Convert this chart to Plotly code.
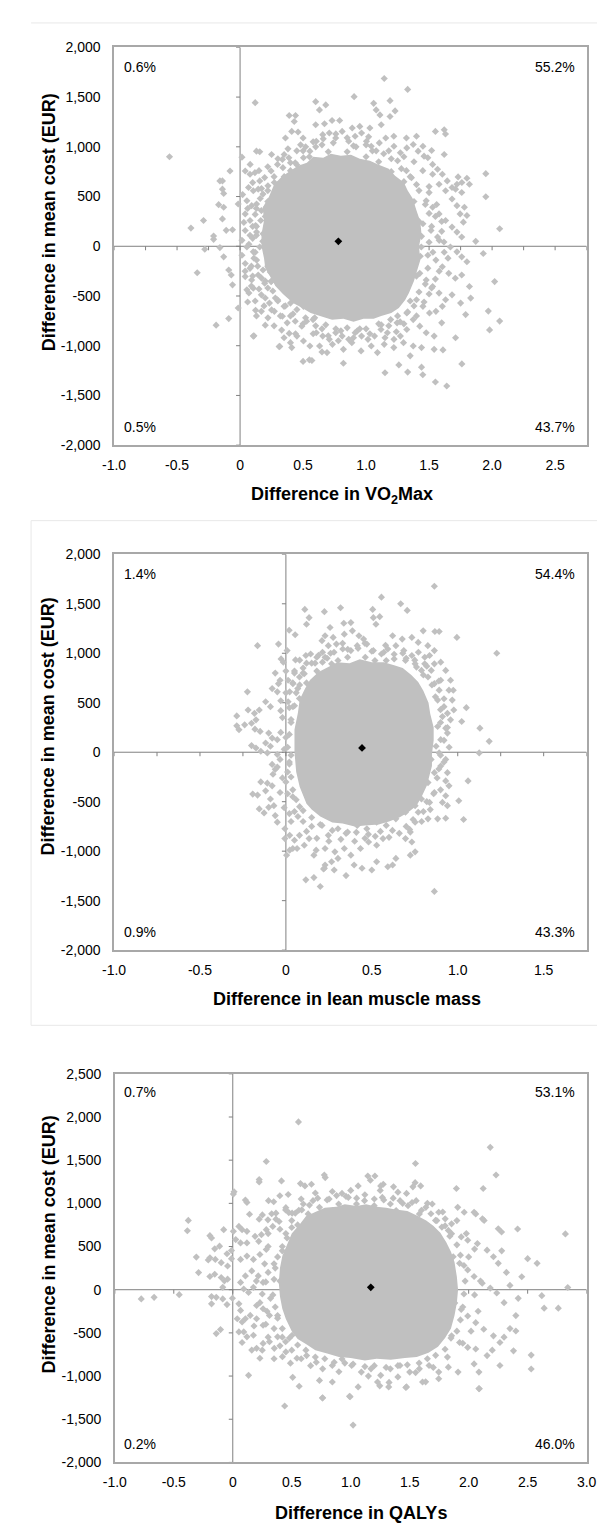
import plotly.graph_objects as go

W, H = 605, 1530
FONT = "Liberation Sans, Arial, sans-serif"
GRAY = "#C0C0C0"

# ---------------- data ----------------
# Panel 1 : Difference in VO2Max  -- outline of the fully covered core, then the individual points
p1_core = [(0.17, 120), (0.19, 260), (0.18, 390), (0.23, 500), (0.27, 620), (0.33, 700), (0.4, 760),
           (0.46, 810), (0.53, 840), (0.58, 900), (0.66, 890), (0.72, 930), (0.8, 910), (0.88, 920),
           (0.95, 880), (1.03, 860), (1.1, 820), (1.18, 780), (1.23, 710), (1.3, 640), (1.33, 560),
           (1.37, 480), (1.4, 360), (1.43, 250), (1.44, 120), (1.42, 0), (1.43, -140), (1.4, -260),
           (1.38, -350), (1.34, -470), (1.31, -540), (1.26, -620), (1.2, -670), (1.12, -700), (1.06, -730),
           (0.98, -730), (0.9, -760), (0.82, -730), (0.73, -740), (0.66, -710), (0.56, -670), (0.48, -610),
           (0.42, -570), (0.34, -480), (0.28, -400), (0.25, -330), (0.2, -220), (0.19, -120), (0.17, 0)]
p1_points = [
    (0.12, 1444), (-0.56, 900), (-0.08, 757), (-0.16, 657), (-0.14, 657), (-0.14, 574), (-0.13, 531),
    (-0.17, 418), (-0.13, 392), (-0.015, 425), (-0.29, 259), (-0.39, 183), (-0.14, 275), (-0.21, 103),
    (-0.21, 70), (-0.28, -30), (-0.34, -266), (-0.11, 160), (-0.06, 166), (-0.16, -13), (-0.13, -106),
    (-0.09, -239), (-0.07, -289), (-0.06, -388), (-0.19, -793), (-0.09, -727), (-0.015, -621), (0.105, -903),
    (0.123, -644), (0.2, -793), (0.31, -1009), (0.41, -1019), (0.5, -1158), (0.55, -1142), (0.33, -843),
    (0.39, -876), (0.015, 896), (0.08, 823), (0.13, 956), (0.156, 950), (0.39, 1315), (0.44, 1315),
    (0.43, 1255), (0.36, 1089), (0.41, 1155), (0.46, 1149), (0.25, 923), (0.35, 923), (0.5, 1089),
    (0.6, 1222), (0.6, 1454), (1.144, 1687), (1.33, 1577), (0.905, 1504), (0.68, 1421), (0.63, 1371),
    (1.19, 1464), (1.23, 1361), (1.06, 1437), (1.08, 1371), (1.11, 1321), (1.19, 1305), (0.67, 1232),
    (0.73, 1265), (0.79, 1265), (0.89, 1189), (0.95, 1205), (1.03, 1189), (1.12, 1222), (1.55, 1155),
    (1.62, 1172), (1.63, 1129), (1.32, 1089), (1.40, 1106), (1.22, 1106), (1.62, 923), (1.52, 963),
    (1.46, 906), (1.95, 730), (1.95, 498), (1.80, 684), (1.82, 624), (1.73, 697), (1.76, 641), (1.71, 574),
    (1.78, 392), (1.80, 309), (1.87, 50), (1.93, -73), (2.02, -355), (2.06, 176), (1.97, -652), (2.06, -752),
    (1.98, -841), (1.76, -1183), (1.64, -1405), (1.55, -1365), (1.45, -1292), (1.44, -1216), (1.33, -1265),
    (1.26, -1193), (1.15, -1272), (0.82, -1176), (0.57, -1149), (0.315, -1007), (0.11, -901), (1.71, -920),
    (1.54, -1036), (0.65, -1062), (0.69, -1069), (0.82, -1036), (0.96, -1052), (1.09, -1069), (1.22, -1019),
    (1.35, -1102), (1.44, -1019), (1.61, -1042), (1.54, -903), (1.60, -770), (1.80, -156), (1.82, -405),
    (1.83, -521), (1.75, -571), (1.79, -687),
    (0.041, 757), (0.079, 724), (0.118, 740), (0.156, 657), (0.195, 691), (0.246, 757), (0.297, 823),
    (0.336, 873), (0.387, 890), (0.438, 840), (0.503, 890), (0.554, 956), (0.067, 591), (0.105, 558),
    (0.144, 574), (0.182, 525), (0.221, 608), (0.272, 641), (0.054, 458), (0.092, 408), (0.131, 425),
    (0.169, 359), (0.208, 392), (0.041, 325), (0.079, 259), (0.123, 209), (0.164, 259), (0.041, 159),
    (0.079, 110), (0.131, 143), (0.182, 126), (0.015, 60), (0.054, -7), (0.105, -56), (0.156, -7),
    (0.015, -90), (0.041, -173), (0.079, -222), (0.131, -139), (0.182, -239), (0.041, -305), (0.092, -339),
    (0.144, -289), (0.195, -372), (0.246, -355), (0.285, -322), (0.054, -438), (0.105, -422), (0.169, -488),
    (0.233, -571), (0.297, -538), (0.349, -604), (0.4, -571), (0.451, -637), (0.503, -604), (0.567, -571),
    (0.169, -654), (0.221, -720), (0.272, -654), (0.336, -704), (0.374, -770), (0.438, -754), (0.49, -803),
    (0.528, -754), (0.592, -720), (0.349, -920), (0.4, -969), (0.451, -903), (0.503, -953), (0.554, -1003),
    (0.22, 450), (0.26, 300), (0.24, 150), (0.21, 20), (0.25, -120), (0.22, -200), (0.26, -450), (0.2, -520),
    (0.29, 480), (0.3, 620), (0.35, 700), (0.4, 760), (0.45, 820), (0.24, -260), (0.18, 50), (0.2, 300),
    (0.12, 320), (0.1, -300), (0.07, -470), (0.12, -550),
    (0.605, 1056), (0.656, 1122), (0.708, 1139), (0.759, 1089), (0.81, 1155), (0.862, 1056), (0.913, 1106),
    (0.964, 1139), (1.003, 1056), (1.041, 1006), (1.105, 1039), (1.156, 1089), (1.221, 1006), (1.272, 940),
    (1.323, 989), (1.374, 1023), (1.413, 956), (1.451, 1006), (1.49, 890), (1.528, 823), (1.567, 774),
    (1.605, 724), (1.644, 657), (1.682, 591), (1.721, 624), (1.759, 541), (1.528, 724), (1.579, 624),
    (1.631, 558), (1.682, 475), (1.721, 408), (1.746, 325), (1.772, 242), (1.477, 458), (1.528, 392),
    (1.579, 325), (1.631, 259), (1.682, 193), (1.721, 143), (1.759, 93), (1.451, 226), (1.515, 159),
    (1.567, 93), (1.618, 43), (1.669, -7), (1.721, -56), (1.759, -106), (1.438, -7), (1.49, -90),
    (1.554, -139), (1.605, -206), (1.656, -272), (1.708, -322), (1.759, -289), (1.426, -272), (1.477, -339),
    (1.528, -405), (1.579, -471), (1.631, -538), (1.682, -488), (1.4, -538), (1.451, -604), (1.503, -671),
    (1.554, -654), (1.605, -604), (1.374, -737), (1.426, -803), (1.477, -870), (1.323, -837), (1.272, -903),
    (1.221, -936), (1.169, -870), (1.118, -837), (1.067, -903), (1.015, -936), (0.964, -903), (0.913, -870),
    (0.862, -936), (0.81, -903), (0.759, -870), (0.708, -936), (0.656, -903), (0.605, -870), (0.631, -1003),
    (0.733, -986), (0.887, -969), (1.041, -1003), (1.144, -986), (1.297, -969), (1.374, -1003), (0.579, -737),
    (1.195, -737), (1.246, -770), (1.323, -671),
    (0.55, 900), (0.7, 950), (0.85, 950), (1.0, 900), (1.1, 850), (1.2, 750), (1.3, 650), (1.38, 450),
    (1.42, 250), (1.44, 100), (1.43, -100), (1.4, -300), (1.35, -550), (1.25, -700), (1.1, -780),
    (0.95, -830), (0.8, -850), (0.65, -830), (0.5, -780), (0.4, -700), (0.3, -550), (0.25, -350),
    (0.5, 960), (0.65, 1020), (0.9, 1010), (1.05, 960), (1.2, 880), (1.28, 780), (1.35, 700), (1.4, 620),
    (1.5, 540), (1.55, 300), (1.6, 150), (1.65, -120), (1.55, -330), (1.5, -480),
    (0.45, 960), (0.52, 1000), (0.58, 1050), (0.66, 1080), (0.74, 1040), (0.85, 1090), (0.92, 1000),
    (1.0, 1020), (1.08, 960), (1.14, 930), (1.25, 860), (1.32, 760), (1.36, 690), (1.42, 560), (1.47, 420),
    (1.5, 330), (1.52, 200), (1.5, 40), (1.53, -60), (1.49, -220), (1.47, -380), (1.42, -460), (1.38, -600),
    (1.33, -660), (1.27, -760), (1.18, -800), (1.12, -790), (1.0, -830), (0.93, -850), (0.85, -820),
    (0.76, -830), (0.68, -790), (0.6, -800), (0.52, -720), (0.42, -680), (0.36, -600), (0.28, -520),
    (0.22, -420), (0.17, -320), (0.14, -200), (0.12, -60), (0.1, 80), (0.13, 200), (0.13, 380), (0.16, 480),
    (0.22, 560), (0.27, 700), (0.34, 790), (0.4, 840),
    (0.02, 520), (0.06, 380), (0.1, 200), (0.03, 240), (0.07, 20), (0.11, -120), (0.04, -250), (0.09, -400),
    (0.15, -430), (0.06, -560), (0.13, -700), (0.19, -600), (0.25, -640), (0.32, -700), (0.27, -800),
    (0.44, -880), (0.58, -880), (0.7, -900), (0.78, -950), (0.9, -920), (1.03, -880), (1.15, -920),
    (1.24, -860), (1.3, -780), (1.4, -700), (1.46, -560), (1.52, -420), (1.58, -250), (1.62, -60),
    (1.58, 60), (1.6, 250), (1.56, 420), (1.5, 600), (1.45, 760), (1.38, 850), (1.3, 900), (1.18, 960),
    (1.02, 1100), (0.76, 1130), (0.6, 1000), (0.48, 1020), (0.38, 980), (0.3, 880), (0.22, 800),
    (0.15, 760), (0.1, 640), (0.17, 580), (0.13, 110), (0.09, -200), (0.2, -350),
]
p1_mean = (0.78, 50)

# Panel 2 : Difference in lean muscle mass
p2_core = [(0.05, 0), (0.05, 230), (0.07, 400), (0.08, 530), (0.11, 640), (0.14, 730), (0.19, 810),
           (0.25, 860), (0.3, 910), (0.37, 900), (0.43, 940), (0.5, 910), (0.57, 910), (0.63, 880),
           (0.68, 850), (0.73, 780), (0.77, 710), (0.8, 620), (0.83, 500), (0.84, 390), (0.86, 250),
           (0.86, 120), (0.85, -20), (0.85, -140), (0.83, -260), (0.82, -340), (0.79, -450), (0.76, -540),
           (0.71, -610), (0.66, -660), (0.6, -700), (0.54, -730), (0.46, -740), (0.4, -750), (0.33, -720),
           (0.27, -710), (0.2, -650), (0.15, -580), (0.12, -520), (0.08, -350), (0.06, -200)]
p2_points = [
    (0.11, 1443), (0.135, 1360), (0.12, 1293), (0.019, 1233), (0.054, 1187), (-0.165, 1077), (-0.043, 1093),
    (-0.028, 943), (-0.015, 910), (0.056, 933), (-0.062, 800), (-0.034, 727), (-0.043, 693), (-0.08, 643),
    (-0.05, 610), (-0.224, 610), (-0.118, 510), (-0.09, 460), (-0.22, 427), (-0.155, 427), (-0.183, 393),
    (-0.286, 367), (-0.24, 277), (-0.286, 267), (-0.273, 227), (-0.2, 293), (-0.174, 327), (-0.18, 233),
    (-0.15, 210), (-0.1, 193), (-0.08, 143), (-0.05, 127), (-0.118, 93), (-0.09, 60), (-0.2, 67),
    (-0.174, 43), (-0.146, 10), (-0.108, -7), (-0.05, -23), (-0.034, -73), (-0.08, -123), (-0.062, -173),
    (-0.075, -223), (-0.146, -300), (-0.108, -313), (-0.08, -340), (-0.193, -423), (-0.165, -433),
    (-0.118, -390), (-0.09, -473), (-0.034, -407), (-0.155, -573), (-0.127, -613), (-0.1, -557),
    (-0.062, -640), (-0.07, -540), (-0.05, -707), (-0.006, -773), (-0.006, -873), (0.022, -840), (0.05, -890),
    (0.079, -840), (0.04, -973), (0.022, -990), (0.004, -1040), (0.065, -973), (0.107, -940), (0.135, -873),
    (0.176, -990), (0.163, -1040), (0.228, -973), (0.116, -1290), (0.163, -1267), (0.2, -1357),
    (0.224, -1173), (0.007, 1027), (0.05, 800), (0.079, 760), (0.107, 793), (0.013, 727), (0.041, 693),
    (0.022, 610), (0.069, 643), (0.116, 977), (0.144, 993), (0.18, 960), (0.213, 1010), (0.228, 1177),
    (0.213, 910), (0.013, 510), (0.041, 460), (0.079, 543),
    (0.864, 1677), (0.556, 1567), (0.668, 1500), (0.706, 1433), (0.224, 1420), (0.318, 1460), (0.505, 1443),
    (0.546, 1370), (0.509, 1360), (0.524, 1293), (0.257, 1260), (0.337, 1303), (0.378, 1310), (0.867, 1220),
    (0.892, 1220), (0.799, 1227), (1.227, 1000), (0.275, 1160), (0.34, 1193), (0.387, 1227), (0.425, 1177),
    (0.452, 1143), (0.621, 1177), (0.677, 1143), (0.733, 1160), (0.77, 1110), (0.826, 1077), (0.864, 1027),
    (0.836, 977), (0.808, 960), (0.901, 910), (0.864, 893), (0.93, 827), (0.958, 727), (0.901, 727),
    (0.949, 627), (0.968, 527), (0.977, 427), (0.94, 393), (0.958, 327), (0.93, 243), (0.94, 193),
    (0.901, 127), (0.892, -7), (0.93, -73), (0.901, -140), (0.94, -207), (0.93, -290), (0.949, -340),
    (0.93, -440), (0.911, -507), (0.94, -540), (0.864, -407), (0.836, -507), (0.827, -673), (0.883, -673),
    (0.93, -667), (0.77, -607), (0.752, -707), (0.724, -807), (0.696, -873), (0.733, -907), (0.752, -1007),
    (0.724, -1040), (0.621, -1140), (0.593, -1157), (0.64, -1073), (0.565, -873), (0.528, -940),
    (0.481, -907), (0.434, -973), (0.378, -1040), (0.34, -973), (0.303, -1073), (0.266, -1107),
    (0.228, -1140), (0.285, -1007), (0.397, -1140), (0.443, -1173), (0.5, -1190), (0.528, -1107),
    (0.35, -1247), (0.281, -1190), (0.219, -1180), (0.864, -1407), (1.129, 243), (1.183, 110),
    (0.995, 1160), (1.125, -7), (1.05, 450), (1.023, 310), (0.974, 626), (1.034, -680), (1.06, -290),
    (1.006, -490),
    (0.21, 1127), (0.247, 1077), (0.294, 1093), (0.331, 1043), (0.378, 1027), (0.415, 1077), (0.471, 1093),
    (0.509, 1027), (0.556, 993), (0.593, 1043), (0.64, 1077), (0.686, 1027), (0.733, 977), (0.771, 1010),
    (0.808, 893), (0.846, 827), (0.228, 960), (0.266, 893), (0.303, 927), (0.359, 960), (0.462, 960),
    (0.518, 927), (0.584, 927), (0.63, 943), (0.696, 927), (0.752, 893), (0.789, 827), (0.827, 760),
    (0.864, 693), (0.892, 627), (0.883, 527), (0.92, 460), (0.911, 360), (0.883, 260), (0.874, 60),
    (0.845, -73), (0.864, -207), (0.827, -307), (0.789, -473), (0.752, -540), (0.696, -607), (0.64, -673),
    (0.584, -740), (0.528, -707), (0.471, -773), (0.415, -740), (0.359, -807), (0.303, -773), (0.247, -840),
    (0.21, -740),
    (0.03, 300), (0.0, 150), (0.02, -100), (0.0, -300), (0.04, -450), (0.08, -550), (0.02, 450),
    (-0.02, 350), (-0.03, 200), (0.01, -200), (0.05, -600), (0.1, -700), (0.15, -750), (0.12, 700),
    (0.18, 820), (0.05, 820), (-0.05, -150), (0.03, -700), (0.15, 900), (0.1, 850),
    (0.1, 800), (0.17, 900), (0.24, 950), (0.28, 1010), (0.36, 1040), (0.42, 1050), (0.5, 1020), (0.57, 1010),
    (0.63, 990), (0.7, 950), (0.76, 860), (0.8, 780), (0.85, 680), (0.87, 560), (0.9, 430), (0.9, 300),
    (0.92, 120), (0.9, -30), (0.89, -170), (0.88, -260), (0.86, -420), (0.82, -500), (0.8, -600),
    (0.74, -680), (0.7, -750), (0.62, -790), (0.55, -800), (0.48, -830), (0.41, -810), (0.35, -820),
    (0.27, -790), (0.2, -730), (0.15, -660), (0.1, -590), (0.06, -480), (0.04, -380), (0.03, -250),
    (0.02, -120), (0.01, 50), (0.02, 180), (0.03, 330), (0.05, 470), (0.06, 600), (0.08, 680),
    (-0.03, 520), (0.0, 600), (-0.01, 30), (0.03, -30), (-0.02, -260), (0.01, -420), (-0.01, -560),
    (0.02, -620), (0.07, -650), (0.12, -800), (0.18, -870), (0.25, -900), (0.32, -880), (0.4, -900),
    (0.46, -870), (0.52, -850), (0.6, -860), (0.66, -820), (0.72, -780), (0.79, -700), (0.84, -580),
    (0.9, -380), (0.92, -100), (0.95, 50), (0.94, 250), (0.92, 540), (0.89, 720), (0.82, 870), (0.75, 930),
    (0.68, 1000), (0.58, 1080), (0.46, 1100), (0.33, 1100), (0.26, 1000), (0.19, 980), (0.12, 900),
    (0.08, 930), (0.04, 700), (0.0, 820), (-0.03, 420),
]
p2_mean = (0.443, 43)

# Panel 3 : Difference in QALYs
p3_core = [(0.39, 80), (0.4, 250), (0.42, 390), (0.46, 520), (0.5, 650), (0.57, 760), (0.62, 850),
           (0.7, 900), (0.78, 950), (0.88, 960), (0.95, 990), (1.05, 970), (1.13, 990), (1.22, 960),
           (1.3, 950), (1.38, 930), (1.48, 910), (1.56, 860), (1.64, 800), (1.7, 740), (1.76, 660),
           (1.81, 550), (1.85, 440), (1.88, 320), (1.9, 150), (1.91, 0), (1.9, -150), (1.88, -300),
           (1.85, -450), (1.8, -560), (1.74, -660), (1.66, -730), (1.56, -780), (1.46, -790), (1.34, -810),
           (1.22, -800), (1.12, -820), (1.0, -790), (0.9, -780), (0.8, -740), (0.7, -700), (0.62, -630),
           (0.55, -570), (0.5, -480), (0.45, -340), (0.42, -220), (0.4, -80)]
p3_points = [
    (0.557, 1943), (0.284, 1485), (0.224, 1275), (0.224, 1248), (0.413, 1260), (0.574, 1229), (0.011, 1134),
    (0.005, 1107), (0.107, 1038), (0.12, 1011), (0.303, 1031), (0.347, 1019), (0.399, 1088), (0.47, 1103),
    (0.142, 874), (0.251, 866), (0.224, 817), (0.298, 809), (0.366, 817), (0.393, 790), (0.475, 893),
    (0.53, 886), (-0.377, 802), (-0.385, 683), (-0.077, 695), (-0.194, 626), (-0.18, 599), (0.005, 676),
    (0.052, 733), (0.079, 695), (0.12, 676), (0.025, 580), (0.066, 542), (-0.153, 473), (-0.112, 504),
    (-0.049, 416), (-0.309, 378), (-0.194, 370), (-0.208, 344), (-0.148, 351), (-0.011, 454), (-0.011, 359),
    (-0.098, 313), (-0.044, 275), (-0.29, 198), (-0.194, 153), (-0.153, 179), (-0.098, 141), (-0.071, 103),
    (-0.044, 122), (-0.085, 27), (-0.776, -107), (-0.667, -88), (-0.454, -57), (-0.18, -80), (-0.14, -88),
    (-0.18, -164), (-0.085, -107), (-0.049, -172), (-0.003, -99), (-0.14, -508), (-0.104, -462),
    (0.052, -164), (0.066, -240), (0.038, -336), (0.079, -374), (0.107, -336), (0.148, -298), (0.093, -489),
    (0.12, -546), (0.052, -489), (0.079, -611), (0.175, -527), (0.161, -699), (0.202, -679), (0.23, -794),
    (0.257, -622), (0.134, -992), (0.508, -1015), (0.563, -1118), (0.44, -1347), (0.489, -851),
    (0.544, -794), (0.421, -775), (0.352, -679), (0.311, -603), (0.38, -546), (0.448, -603), (0.503, -527),
    (0.202, -183), (0.257, -221), (0.311, -298), (0.202, -336), (0.257, -412), (0.093, 8), (0.134, -31),
    (0.175, 27), (0.066, 84), (0.107, 160), (0.161, 218), (0.216, 160), (0.257, 84), (0.066, 351),
    (0.12, 389), (0.175, 351), (0.23, 408), (0.284, 466), (0.12, 542), (0.189, 618), (0.243, 637),
    (0.284, 695), (0.339, 733), (0.366, 886), (0.448, 924), (0.503, 886), (0.585, 924),
    (2.183, 1649), (2.232, 1328), (1.549, 1462), (0.776, 1328), (0.784, 1298), (1.145, 1317), (1.205, 1317),
    (1.167, 1267), (1.276, 1221), (1.254, 1202), (1.546, 1240), (1.527, 1191), (1.593, 1202), (1.896, 1172),
    (2.123, 1172), (2.046, 897), (2.06, 878), (2.131, 801), (2.117, 821), (2.251, 706), (2.279, 668),
    (0.612, 1202), (0.667, 1221), (0.844, 1137), (0.926, 1115), (1.063, 1202), (1.363, 1191), (1.473, 1115),
    (1.907, 954), (1.962, 897), (1.855, 649), (1.937, 611), (1.992, 573), (2.074, 534), (2.156, 458),
    (2.21, 382), (2.251, 305), (1.869, 382), (1.923, 305), (1.992, 229), (2.046, 153), (2.115, 76),
    (2.183, 19), (2.238, -38), (1.882, -153), (1.937, -229), (1.992, -305), (2.06, -382), (2.128, -458),
    (2.21, -534), (2.265, -611), (1.855, -534), (1.923, -611), (1.992, -668), (2.06, -687), (2.156, -763),
    (2.087, -954), (2.046, -859), (2.2, -700), (2.087, -1145), (2.265, -878),
    (2.84, 26), (2.76, -214), (2.64, -214), (2.62, -69), (2.53, -757), (2.53, -918), (2.40, -478),
    (2.38, -708), (2.82, 646), (2.415, 703), (2.58, 305), (2.50, 359), (0.99, -1235), (0.76, -1254),
    (1.02, -1568), (2.09, -1147), (1.635, -1067), (1.467, -1132), (1.325, -1074), (1.246, -1113),
    (2.3, -150), (2.35, 50), (2.32, 200), (2.4, -300), (2.35, -450), (2.45, 150), (2.28, 450), (2.3, -550),
    (2.42, -100),
    (0.626, -763), (0.708, -840), (0.762, -916), (0.844, -878), (0.926, -802), (1.008, -878), (1.09, -954),
    (1.172, -916), (1.254, -992), (1.336, -916), (1.418, -878), (1.5, -954), (1.582, -916), (1.664, -878),
    (1.746, -954), (1.828, -897), (0.735, -1050), (0.844, -1069), (1.063, -1126), (1.227, -1069),
    (1.322, -1126), (1.473, -1126), (1.609, -1069), (1.746, -1031), (1.91, -954), (0.762, -1252),
    (0.995, -1240),
    (0.598, 992), (0.68, 1031), (0.735, 954), (0.817, 1050), (0.898, 992), (0.98, 1069), (1.049, 992),
    (1.117, 1031), (1.199, 973), (1.268, 1069), (1.336, 992), (1.418, 1031), (1.486, 973), (1.555, 1031),
    (1.637, 954), (1.691, 992), (1.746, 897), (1.801, 821), (1.855, 763), (0.639, 878), (0.844, 916),
    (1.117, 897), (1.385, 916), (1.582, 878), (1.719, 802), (1.773, 725), (1.828, 687),
    (0.3, 500), (0.35, 300), (0.4, 100), (0.32, -100), (0.38, -300), (0.35, -450), (0.42, -550), (0.3, 200),
    (0.25, -50), (0.45, 650), (0.4, -650), (0.5, -700), (0.55, 750), (0.42, 450), (0.28, -400),
    (0.5, 800), (0.56, 920), (0.65, 980), (0.72, 1060), (0.8, 1040), (0.88, 1090), (0.96, 1080), (1.05, 1060),
    (1.12, 1100), (1.2, 1050), (1.28, 1040), (1.36, 1060), (1.44, 1000), (1.52, 1010), (1.6, 920),
    (1.68, 880), (1.73, 800), (1.8, 740), (1.84, 620), (1.9, 520), (1.93, 400), (1.96, 280), (1.97, 100),
    (1.96, -50), (1.95, -200), (1.93, -350), (1.9, -480), (1.85, -560), (1.8, -690), (1.72, -760),
    (1.65, -800), (1.58, -850), (1.48, -870), (1.4, -880), (1.3, -900), (1.2, -880), (1.12, -890),
    (1.02, -860), (0.95, -850), (0.86, -840), (0.78, -800), (0.7, -780), (0.62, -700), (0.55, -640),
    (0.48, -560), (0.42, -450), (0.38, -330), (0.36, -200), (0.34, -60), (0.35, 120), (0.36, 250),
    (0.38, 380), (0.42, 500), (0.46, 600),
    (0.3, 650), (0.22, 560), (0.27, 300), (0.2, 100), (0.28, 90), (0.23, -150), (0.29, -250), (0.18, -420),
    (0.3, -550), (0.25, -700), (0.35, -800), (0.45, -720), (0.58, -800), (0.66, -880), (0.9, -950),
    (1.15, -1000), (1.4, -1010), (1.55, -960), (1.7, -900), (1.82, -780), (1.95, -620), (2.02, -480),
    (2.08, -250), (2.05, -60), (2.1, 100), (2.0, 380), (2.05, 470), (1.98, 650), (1.9, 800), (1.78, 900),
    (1.65, 1000), (1.4, 1130), (1.25, 1150), (1.0, 1150), (0.7, 1120), (0.58, 1050), (0.45, 950),
    (0.4, 700), (0.5, 720), (0.33, 880),
]
p3_mean = (1.17, 27)

quad_labels = [("0.6%", "55.2%", "0.5%", "43.7%"),
               ("1.4%", "54.4%", "0.9%", "43.3%"),
               ("0.7%", "53.1%", "0.2%", "46.0%")]
x_titles = ["Difference in VO<sub>2</sub>Max", "Difference in lean muscle mass", "Difference in QALYs"]
y_title = "Difference in mean cost (EUR)"

x_ranges = [(-1, 2.75), (-1, 1.75), (-1, 3)]
y_ranges = [(-2000, 2000), (-2000, 2000), (-2000, 2500)]
x_tickvals = [[-1, -0.5, 0, 0.5, 1, 1.5, 2, 2.5],
              [-1, -0.5, 0, 0.5, 1, 1.5],
              [-1, -0.5, 0, 0.5, 1, 1.5, 2, 2.5, 3]]
x_ticktext = [["-1.0", "-0.5", "0", "0.5", "1.0", "1.5", "2.0", "2.5"],
              ["-1.0", "-0.5", "0", "0.5", "1.0", "1.5"],
              ["-1.0", "-0.5", "0", "0.5", "1.0", "1.5", "2.0", "2.5", "3.0"]]
y_tickvals = [[-2000, -1500, -1000, -500, 0, 500, 1000, 1500, 2000],
              [-2000, -1500, -1000, -500, 0, 500, 1000, 1500, 2000],
              [-2000, -1500, -1000, -500, 0, 500, 1000, 1500, 2000, 2500]]
y_ticktext = [["-2,000", "-1,500", "-1,000", "-500", "0", "500", "1,000", "1,500", "2,000"],
              ["-2,000", "-1,500", "-1,000", "-500", "0", "500", "1,000", "1,500", "2,000"],
              ["-2,000", "-1,500", "-1,000", "-500", "0", "500", "1,000", "1,500", "2,000", "2,500"]]
zero_x_ticks = [[-1, -0.75, -0.5, -0.25, 0, 0.25, 0.5, 0.75, 1, 1.25, 1.5, 1.75, 2, 2.25, 2.5, 2.75],
                [-1, -0.75, -0.5, -0.25, 0, 0.25, 0.5, 0.75, 1, 1.25, 1.5, 1.75],
                [-1, -0.5, 0, 0.5, 1, 1.5, 2, 2.5, 3]]

cores = [p1_core, p2_core, p3_core]
clouds = [p1_points, p2_points, p3_points]
means = [p1_mean, p2_mean, p3_mean]

# ---------------- layout geometry (pixels) ----------------
plot_box = [(97.6, 31.7, 588, 433.7), (97.6, 544, 588, 944), (98.4, 1069, 588, 1461.7)]
xlabel_y = [485, 993.3, 1513.3]
xlabel_x = [334, 339, 354]
ytitle_y = [208.5, 718, 1241.5]
quad_y = [(51.7, 415), (564, 925.7), (1087.5, 1443.3)]
AXC = "#808080"


def px(x):
    return x / W


def py(y):
    return 1 - y / H


fig = go.Figure()
layout = dict(width=W, height=H, margin=dict(l=0, r=0, t=0, b=0),
              paper_bgcolor="white", plot_bgcolor="rgba(0,0,0,0)",
              showlegend=False, font=dict(family=FONT, size=14, color="#000"))
annotations = []
shapes = []

for i in range(3):
    n = i + 1
    xa, ya = ("x" if n == 1 else f"x{n}"), ("y" if n == 1 else f"y{n}")
    l, t, r, b = plot_box[i]
    x0, x1 = x_ranges[i]
    y0, y1 = y_ranges[i]

    core = cores[i] + [cores[i][0]]
    fig.add_trace(go.Scatter(x=[c[0] for c in core], y=[c[1] for c in core], xaxis=xa, yaxis=ya,
                             mode="lines", fill="toself", fillcolor=GRAY, line=dict(width=0, color=GRAY),
                             hoverinfo="skip"))
    fig.add_trace(go.Scatter(x=[p[0] for p in clouds[i]], y=[p[1] for p in clouds[i]], xaxis=xa, yaxis=ya,
                             mode="markers", marker=dict(symbol="diamond", size=5.5, color=GRAY,
                                                         line=dict(width=0)), hoverinfo="skip"))
    fig.add_trace(go.Scatter(x=[means[i][0]], y=[means[i][1]], xaxis=xa, yaxis=ya, mode="markers",
                             marker=dict(symbol="diamond", size=6, color="black", line=dict(width=0)),
                             hoverinfo="skip"))

    xdom = [px(l), px(r)]
    ydom = [py(b), py(t)]
    ak = "xaxis" if n == 1 else f"xaxis{n}"
    ay = "yaxis" if n == 1 else f"yaxis{n}"
    layout[ak] = dict(domain=xdom, anchor=ya, range=[x0, x1], tickvals=x_tickvals[i],
                      ticktext=x_ticktext[i], ticks="", showgrid=False, zeroline=False,
                      showline=True, mirror=True, linecolor="#a8a8a8", linewidth=1.5,
                      tickfont=dict(size=14, family=FONT, color="#000"), ticklabelstandoff=6,
                      fixedrange=True)
    layout[ay] = dict(domain=ydom, anchor=xa, range=[y0, y1], tickvals=y_tickvals[i],
                      ticktext=y_ticktext[i], ticks="", showgrid=False, zeroline=False,
                      showline=True, mirror=True, linecolor="#a8a8a8", linewidth=1.5,
                      tickfont=dict(size=14, family=FONT, color="#000"), ticklabelstandoff=9,
                      fixedrange=True)

    # axes crossing at zero, drawn below the points, with small tick marks
    shapes.append(dict(type="line", xref=xa, yref=ya, x0=x0, x1=x1, y0=0, y1=0, layer="below",
                       line=dict(color=AXC, width=1)))
    shapes.append(dict(type="line", xref=xa, yref=ya, x0=0, x1=0, y0=y0, y1=y1, layer="below",
                       line=dict(color=AXC, width=1)))
    for tv in zero_x_ticks[i]:
        shapes.append(dict(type="line", xref=xa, yref=ya, x0=tv, x1=tv, ysizemode="pixel", yanchor=0,
                           y0=0, y1=-4, layer="below", line=dict(color=AXC, width=1)))
    for tv in y_tickvals[i]:
        shapes.append(dict(type="line", xref=xa, yref=ya, y0=tv, y1=tv, xsizemode="pixel", xanchor=0,
                           x0=-4, x1=0, layer="below", line=dict(color=AXC, width=1)))

    ql, qr, bl, br = quad_labels[i]
    ty, by = quad_y[i]
    for txt, xx, anc, yy in [(ql, 106, "left", ty), (qr, 577.5, "right", ty),
                             (bl, 106, "left", by), (br, 577.5, "right", by)]:
        annotations.append(dict(text=txt, x=px(xx), y=py(yy), xref="paper", yref="paper",
                                xanchor=anc, yanchor="middle", showarrow=False,
                                font=dict(size=14, family=FONT, color="#000")))
    annotations.append(dict(text=f"<b>{x_titles[i]}</b>", x=px(xlabel_x[i]), y=py(xlabel_y[i]),
                            xref="paper", yref="paper", xanchor="center", yanchor="middle",
                            showarrow=False, font=dict(size=18, family=FONT, color="#000")))
    annotations.append(dict(text=f"<b>{y_title}</b>", x=px(30), y=py(ytitle_y[i]), xref="paper",
                            yref="paper", xanchor="center", yanchor="middle", textangle=-90,
                            showarrow=False, font=dict(size=18, family=FONT, color="#000")))

# light panel separators
shapes.append(dict(type="line", xref="paper", yref="paper", x0=px(11.5), x1=1, y0=py(7), y1=py(7),
                   line=dict(color="#e8e8e8", width=1)))
shapes.append(dict(type="rect", xref="paper", yref="paper", x0=px(11.5), x1=px(607), y0=py(1020),
                   y1=py(510), line=dict(color="#e8e8e8", width=1)))

layout["annotations"] = annotations
layout["shapes"] = shapes
fig.update_layout(**layout)
fig.write_html("out.html")
